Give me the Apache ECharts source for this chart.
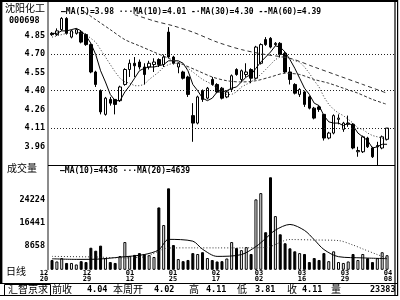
<!DOCTYPE html>
<html><head><meta charset="utf-8">
<script src="https://cdn.jsdelivr.net/npm/echarts@6/dist/echarts.min.js"></script>
<style>html,body{margin:0;padding:0;background:#fff}#c{width:400px;height:300px}</style>
</head><body><div id="c"></div>
<script>
// ---- data ----
const opens  = [4.87,4.86,4.90,4.99,4.84,4.87,4.88,4.86,4.78,4.56, 4.41,4.22,4.34,4.34,4.33,4.46,4.58,4.63,4.64,4.60, 4.60,4.62,4.66,4.62,4.88,4.68,4.60,4.56,4.52,4.21, 4.15,4.41,4.35,4.50,4.46,4.43,4.36,4.42,4.58,4.50, 4.54,4.58,4.51,4.63,4.82,4.83,4.78,4.79,4.71,4.56, 4.46,4.38,4.40,4.36,4.27,4.28,4.22,4.03,4.07,4.18, 4.10,4.14,4.14,3.92,3.92,4.03,3.95,3.96,3.95,4.02];
const closes = [4.86,4.89,4.99,4.87,4.89,4.90,4.80,4.78,4.56,4.46, 4.24,4.35,4.31,4.30,4.44,4.58,4.63,4.61,4.60,4.54, 4.63,4.64,4.62,4.68,4.68,4.63,4.63,4.51,4.38,4.15, 4.36,4.34,4.43,4.46,4.40,4.35,4.40,4.53,4.54,4.57, 4.56,4.51,4.76,4.78,4.78,4.76,4.79,4.70,4.56,4.50, 4.39,4.42,4.30,4.27,4.19,4.26,4.03,4.07,4.21,4.19, 4.15,4.15,3.95,3.93,4.04,3.96,3.88,3.97,4.04,4.11];
const lows   = [4.85,4.85,4.89,4.86,4.83,4.86,4.79,4.77,4.55,4.44, 4.22,4.21,4.29,4.22,4.32,4.45,4.52,4.52,4.58,4.46, 4.58,4.56,4.60,4.60,4.67,4.62,4.55,4.50,4.36,4.00, 4.14,4.32,4.34,4.45,4.39,4.34,4.35,4.40,4.53,4.48, 4.52,4.47,4.50,4.62,4.77,4.75,4.77,4.68,4.55,4.46, 4.38,4.36,4.28,4.26,4.18,4.24,4.01,4.02,4.06,4.14, 4.08,4.12,3.94,3.88,3.91,3.95,3.87,3.81,3.94,4.01];
const highs  = [4.88,4.91,5.00,5.00,4.90,4.91,4.89,4.87,4.79,4.57, 4.42,4.36,4.36,4.34,4.45,4.59,4.66,4.68,4.66,4.63, 4.65,4.67,4.67,4.70,4.92,4.69,4.64,4.57,4.53,4.31, 4.37,4.42,4.44,4.52,4.47,4.44,4.41,4.54,4.59,4.58, 4.63,4.59,4.77,4.79,4.84,4.84,4.80,4.80,4.72,4.60, 4.47,4.43,4.41,4.37,4.28,4.29,4.22,4.08,4.22,4.22, 4.16,4.21,4.15,3.96,4.05,4.04,3.96,4.00,4.05,4.11];
const volumes = [4000,3500,4600,3000,3000,2500,3600,3300,8100,7100, 8800,4600,3300,3000,5300,10000,5300,5700,6300,5900, 5600,5000,21600,15700,28000,9000,4300,3600,4000,6300, 6000,6600,4650,3980,3500,3600,4500,10000,8000,7300, 8300,6000,24300,26400,13300,31700,18700,12600,9600,7900, 6900,6300,6000,3300,4650,4000,6300,3600,6900,3300, 3000,3500,6000,4000,6000,4600,3300,4600,6600,5600];
const ma5  = [4.87,4.87,4.89,4.89,4.90,4.91,4.89,4.85,4.79,4.70, 4.57,4.48,4.38,4.33,4.33,4.40,4.45,4.51,4.57,4.59, 4.60,4.60,4.61,4.62,4.65,4.65,4.65,4.63,4.57,4.46, 4.41,4.35,4.33,4.35,4.40,4.40,4.41,4.43,4.44,4.48, 4.52,4.54,4.59,4.64,4.68,4.72,4.77,4.76,4.72,4.66, 4.59,4.51,4.43,4.38,4.31,4.29,4.21,4.16,4.15,4.15, 4.13,4.15,4.13,4.07,4.04,4.01,3.95,3.96,3.98,3.98];
const ma10 = [4.84,4.85,4.86,4.87,4.87,4.88,4.87,4.86,4.83,4.80, 4.74,4.68,4.62,4.56,4.51,4.48,4.47,4.45,4.45,4.46, 4.50,4.53,4.56,4.60,4.62,4.63,4.63,4.62,4.59,4.56, 4.53,4.50,4.48,4.46,4.43,4.40,4.38,4.38,4.40,4.44, 4.46,4.48,4.51,4.54,4.58,4.62,4.66,4.68,4.68,4.67, 4.65,4.64,4.60,4.55,4.49,4.44,4.36,4.30,4.26,4.23, 4.21,4.18,4.15,4.11,4.10,4.07,4.05,4.04,4.03,4.01];
const ma30 = [[6,5.06],[9,4.98],[12,4.90],[15,4.82],[18,4.77],[21,4.72],[24,4.67],[27,4.62],[30,4.57],[33,4.52],[36,4.49],[39,4.48],[42,4.49],[45,4.52],[48,4.55],[51,4.54],[54,4.50],[57,4.47],[60,4.43],[63,4.39],[66,4.34],[69,4.30]];
const ma60 = [[17,5.02],[21,4.97],[25,4.93],[29,4.88],[34,4.80],[39,4.74],[44,4.70],[49,4.67],[54,4.60],[59,4.53],[64,4.46],[69,4.39]];
const volMa10 = [[0,4400],[5,4200],[9,4260],[14,4950],[19,5820],[22,7400],[24,10900],[29,10300],[31,7600],[34,5200],[39,5800],[42,8500],[44,11200],[46,14000],[49,15900],[52,13900],[54,10800],[56,7500],[59,5100],[64,4700],[69,4436]];
const volMa20 = [[0,5200],[9,5000],[14,4700],[19,5040],[24,8000],[29,8060],[34,8050],[39,8060],[44,8180],[49,10850],[54,10700],[59,10500],[62,9000],[64,7700],[67,5800],[69,4639]];
const priceTickLabels = ['', '3.96', '4.11', '4.26', '4.40', '4.55', '4.70', '4.85', '', ''];
const volTickLabels = ['', '8658', '16441', '24224', '', ''];
const dateLabels = ['12\n20','12\n29','01\n12','01\n25','02\n17','03\n02','03\n16','03\n29','04\n08'];
const gridPrices = [4.1103, 4.4069, 4.7035];
const infoItems = [['前收',52,'cjk'],['4.04',87,'num'],['本周开',113,'cjk'],['4.02',154,'num'],['高',189,'cjk'],['4.11',206,'num'],['低',237,'cjk'],['3.81',255,'num'],['收',287,'cjk'],['4.11',302,'num'],['量',331,'cjk'],['23383',370,'num']];

// ---- scales ----
const P_MIN = 3.8137, P_STEP = 0.1483, P_MAX = 5.1137;
const V_MIN = 875, V_STEP = 7783, V_MAX = 35711;
const X_MIN = -0.83, X_MAX = 70.64;
const MONO = 'DejaVu Sans Mono';
const CJK = 'Noto Sans CJK SC';

function tickFmt(min, step, labels) {
  return function (v) {
    const k = Math.round((v - min) / step);
    if (Math.abs(v - (min + k * step)) > step * 1e-3) return '';
    return labels[k] || '';
  };
}

const chart = echarts.init(document.getElementById('c'), null, {renderer: 'canvas'});
const candleData = opens.map((o, i) => [i, o, closes[i], lows[i], highs[i]]);
const volData = volumes.map((v, i) => {
  const up = closes[i] >= opens[i];
  return {value: [i, v], itemStyle: {color: up ? '#fff' : '#000', borderColor: '#000', borderWidth: 1}};
});

const graphics = [];
function txt(x, y, s, font, align) {
  graphics.push({type: 'text', x: x, y: y, z: 100, style: {text: s, font: font, fill: '#000', textAlign: align || 'left', textVerticalAlign: 'middle'}});
}
function ln(x1, y1, x2, y2, w, c) {
  graphics.push({type: 'line', z: 100, shape: {x1, y1, x2, y2}, style: {stroke: c || '#000', lineWidth: w || 1}});
}
// frame
graphics.push({type: 'rect', z: 99, shape: {x: 47, y: 2, width: 2, height: 268}, style: {fill: '#8c8c8c'}});
ln(0, 1, 398, 1, 2);
ln(1.2, 0, 1.2, 283.5, 2.4);
ln(395, 0, 395, 296, 1.2);
ln(397.6, 0, 397.6, 296, 1.2);
ln(48, 165.5, 395, 165.5, 1);
ln(0, 283.5, 398, 283.5, 1);
ln(0, 295.5, 398, 295.5, 1);
graphics.push({type: 'rect', z: 100, shape: {x: 4.5, y: 284.5, width: 46, height: 11}, style: {fill: 'none', stroke: '#000', lineWidth: 1}});
// texts
txt(5, 8, '沈阳化工', '10px "' + CJK + '"');
txt(9, 21, '000698', 'bold 8.5px "' + MONO + '"');
txt(61, 12, '—MA(5)=3.98 ···MA(10)=4.01 -·MA(30)=4.30 --MA(60)=4.39', 'bold 8px "' + MONO + '"');
txt(7, 168, '成交量', '10px "' + CJK + '"');
txt(60, 171, '—MA(10)=4436 ···MA(20)=4639', 'bold 8px "' + MONO + '"');
txt(6, 271, '日线', '10px "' + CJK + '"');
txt(8, 289.5, '汇智京求', '10px "' + CJK + '"');
infoItems.forEach(it => txt(it[1], 289.5, it[0], it[2] === 'cjk' ? '10px "' + CJK + '"' : 'bold 8.5px "' + MONO + '"'));

const option = {
  animation: false,
  backgroundColor: '#fff',
  grid: [
    {left: 48, right: 5, top: 3, height: 162},
    {left: 48, right: 5, top: 165.3, height: 104},
    {left: 44, width: 344, top: 269, height: 1}
  ],
  xAxis: [
    {type: 'value', gridIndex: 0, min: X_MIN, max: X_MAX, show: false},
    {type: 'value', gridIndex: 1, min: X_MIN, max: X_MAX, show: false},
    {type: 'value', gridIndex: 2, min: 0, max: 8, interval: 1,
      axisLine: {show: false}, axisTick: {show: false}, splitLine: {show: false},
      axisLabel: {show: true, margin: 0, showMinLabel: true, showMaxLabel: true, hideOverlap: false,
        fontFamily: MONO, fontWeight: 'bold', fontSize: 7, lineHeight: 6, color: '#000',
        formatter: v => dateLabels[Math.round(v)] || ''}}
  ],
  yAxis: [
    {type: 'value', gridIndex: 0, min: P_MIN, max: P_MAX, interval: P_STEP,
      axisLine: {show: false}, axisTick: {show: false}, splitLine: {show: false},
      axisLabel: {margin: 3, fontFamily: MONO, fontWeight: 'bold', fontSize: 8.5, color: '#000',
        showMinLabel: true, showMaxLabel: true, formatter: tickFmt(P_MIN, P_STEP, priceTickLabels)}},
    {type: 'value', gridIndex: 1, min: V_MIN, max: V_MAX, interval: V_STEP,
      axisLine: {show: false}, axisTick: {show: false}, splitLine: {show: false},
      axisLabel: {margin: 3, fontFamily: MONO, fontWeight: 'bold', fontSize: 8.5, color: '#000',
        formatter: tickFmt(V_MIN, V_STEP, volTickLabels)}},
    {type: 'value', gridIndex: 2, show: false}
  ],
  series: [
    {type: 'candlestick', xAxisIndex: 0, yAxisIndex: 0, data: candleData, encode: {x: 0, y: [1, 2, 3, 4]},
      barWidth: 3,
      itemStyle: {color: '#fff', color0: '#000', borderColor: '#000', borderColor0: '#000', borderWidth: 1},
      markLine: {silent: true, symbol: ['none', 'none'], label: {show: false}, animation: false,
        lineStyle: {type: [1, 2], color: '#222', width: 1},
        data: gridPrices.map(v => ({yAxis: v}))}},
    {type: 'line', xAxisIndex: 0, yAxisIndex: 0, data: ma5.map((v, i) => [i, v]), symbol: 'none',
      lineStyle: {color: '#000', width: 1}},
    {type: 'line', xAxisIndex: 0, yAxisIndex: 0, data: ma10.map((v, i) => [i, v]), symbol: 'none',
      lineStyle: {color: '#333', width: 1, type: [1, 2]}},
    {type: 'line', xAxisIndex: 0, yAxisIndex: 0, data: ma30, symbol: 'none', smooth: 0.3,
      lineStyle: {color: '#333', width: 1, type: [3, 2]}},
    {type: 'line', xAxisIndex: 0, yAxisIndex: 0, data: ma60, symbol: 'none', smooth: 0.3,
      lineStyle: {color: '#333', width: 1, type: [4, 3]}},
    {type: 'bar', xAxisIndex: 1, yAxisIndex: 1, data: volData, barWidth: 3, clip: true},
    {type: 'line', xAxisIndex: 1, yAxisIndex: 1, data: volMa10, symbol: 'none', smooth: 0.3,
      lineStyle: {color: '#000', width: 1}},
    {type: 'line', xAxisIndex: 1, yAxisIndex: 1, data: volMa20, symbol: 'none', smooth: 0.3,
      lineStyle: {color: '#333', width: 1, type: [1, 2]}}
  ],
  graphic: graphics
};
chart.setOption(option);
</script></body></html>
